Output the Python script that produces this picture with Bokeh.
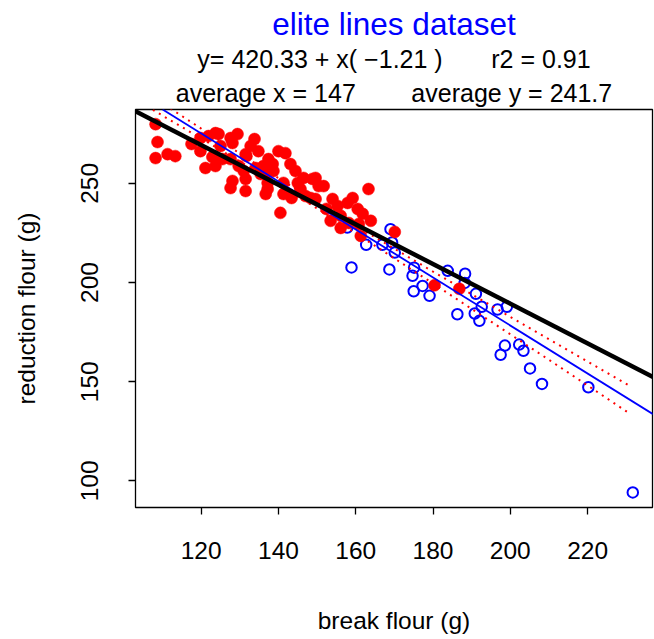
from bokeh.plotting import figure
from bokeh.models import FixedTicker, Range1d, Slope, Title
from bokeh.embed import file_html
from bokeh.resources import INLINE

# ---- data ----
red_x = [108.2, 108.7, 108.2, 111.3, 113.3, 117.5, 119.8, 121.9, 123.7, 124.5,
         119.8, 122.9, 121.1, 123.7, 127.6, 125.5, 127.6, 127.6, 129.4, 128.1,
         133.8, 131.5, 134.8, 140.0, 141.8, 131.0, 128.1, 131.5, 136.7, 137.2,
         141.3, 144.4, 146.5, 148.8, 145.7, 150.4, 141.3, 147.0, 138.5, 143.1,
         134.1, 140.5, 136.7, 143.4, 151.7, 149.6, 149.6, 154.0, 155.3, 159.2,
         163.3, 157.9, 160.5, 161.8, 163.9, 156.1, 153.5, 156.1, 160.8, 161.3,
         158.2, 170.1, 180.4, 186.8, 131.5, 135.4, 136.1, 138.7, 145.0, 131.7,
         125.0, 132.8, 137.4, 129.7, 148.3, 152.4, 137.2]
red_y = [279.8, 270.8, 262.7, 264.7, 263.7, 269.8, 272.8, 273.8, 275.3, 274.8,
         266.2, 263.2, 257.7, 258.7, 272.8, 262.2, 262.2, 247.6, 274.8, 270.3,
         272.3, 264.7, 266.2, 266.2, 265.2, 256.2, 251.2, 246.1, 254.7, 247.1,
         250.2, 256.2, 252.7, 252.2, 247.1, 248.6, 244.6, 243.6, 259.7, 259.7,
         257.7, 235.1, 244.6, 242.6, 248.6, 252.7, 242.1, 242.1, 238.6, 242.6,
         247.1, 240.1, 237.1, 234.6, 231.1, 233.6, 231.1, 227.5, 229.5, 223.5,
         230.0, 225.5, 198.6, 196.8, 252.2, 254.7, 258.7, 256.2, 250.2, 263.7,
         268.8, 268.8, 262.2, 258.7, 242.6, 237.1, 250.2]

blue_x = [157.8, 162.7, 166.9, 169.0, 169.4, 170.1, 158.9, 168.7, 175.1, 174.7,
          177.3, 175.0, 179.1, 183.8, 188.3, 188.2, 191.1, 192.6, 190.8, 192.0,
          186.3, 196.7, 199.1, 198.6, 197.5, 202.3, 203.4, 205.1, 208.2, 220.2,
          231.7]
blue_y = [227.7, 219.0, 219.0, 226.9, 220.2, 215.1, 207.6, 206.6, 207.5, 203.4,
          198.3, 195.6, 193.3, 205.9, 204.4, 199.8, 194.3, 187.8, 184.4, 180.7,
          184.0, 186.4, 187.8, 168.2, 163.6, 168.7, 165.6, 156.7, 148.9, 147.2,
          94.2]

fit_intercept = 420.33
fit_slope = -1.21
thick_intercept = 389.3
thick_slope = -1.0

band_x = [107.5, 120, 135, 147, 160, 180, 200, 215, 231]
band_hi = [293.4, 277.6, 258.8, 244.0, 228.6, 205.5, 182.7, 165.8, 147.8]
band_lo = [287.0, 272.6, 255.2, 241.0, 224.8, 199.5, 173.9, 154.6, 133.8]

x_ticks = [120, 140, 160, 180, 200, 220]
y_ticks = [100, 150, 200, 250]

NB = "\u00a0"
title_text = "elite lines dataset"
sub1_text = "y= 420.33 + x( \u22121.21 )" + NB * 7 + "r2 = 0.91"
sub2_text = "average x = 147" + NB * 8 + "average y = 241.7"

FONT = "Liberation Sans"

p = figure(output_backend="svg", toolbar_location=None,
           frame_width=517, frame_height=398,
           min_border_left=135, min_border_right=2,
           min_border_top=109, min_border_bottom=131,
           x_range=Range1d(103.0, 236.8), y_range=Range1d(86.6, 287.2),
           background_fill_color="white", border_fill_color="white")

p.xgrid.visible = False
p.ygrid.visible = False
p.outline_line_color = "black"
p.outline_line_width = 1.3

for ax in (p.xaxis[0], p.yaxis[0]):
    ax.axis_line_color = None
    ax.major_tick_in = 0
    ax.major_tick_out = 7
    ax.major_tick_line_width = 1.3
    ax.minor_tick_line_color = None
    ax.major_label_text_font = FONT
    ax.major_label_text_font_size = "24.5px"
    ax.major_label_text_color = "black"
    ax.axis_label_text_font = FONT
    ax.axis_label_text_font_size = "24.5px"
    ax.axis_label_text_font_style = "normal"
    ax.axis_label_text_color = "black"

p.xaxis.ticker = FixedTicker(ticks=x_ticks)
p.yaxis.ticker = FixedTicker(ticks=y_ticks)
p.xaxis.axis_label = "break flour (g)"
p.yaxis.axis_label = "reduction flour (g)"
p.yaxis.major_label_orientation = "vertical"
p.xaxis.major_label_standoff = 27
p.xaxis.axis_label_standoff = 45
p.yaxis.major_label_standoff = 30
p.yaxis.axis_label_standoff = 39

# points
p.scatter(blue_x, blue_y, size=10.5, marker="circle", fill_color=None,
          line_color="#0000FF", line_width=2)
p.scatter(red_x, red_y, size=12, marker="circle", fill_color="#FF0000",
          line_color="#FF0000", line_width=0.5)

# lines
p.add_layout(Slope(gradient=fit_slope, y_intercept=fit_intercept,
                   line_color="#0000FF", line_width=1.8))
p.line(band_x, band_hi, line_color="#FF0000", line_width=2, line_dash="2 5")
p.line(band_x, band_lo, line_color="#FF0000", line_width=2, line_dash="2 5")
p.add_layout(Slope(gradient=thick_slope, y_intercept=thick_intercept,
                   line_color="black", line_width=4.5))

# titles (first added sits closest to the plot)
p.add_layout(Title(text=sub2_text, align="center", text_font=FONT,
                   text_font_size="25px", text_font_style="normal",
                   text_color="black", standoff=6), "above")
p.add_layout(Title(text=sub1_text, align="center", text_font=FONT,
                   text_font_size="25px", text_font_style="normal",
                   text_color="black", standoff=2), "above")
p.add_layout(Title(text=title_text, align="center", text_font=FONT,
                   text_font_size="31.5px", text_font_style="normal",
                   text_color="#0000FF", standoff=0), "above")

open("out.html", "w").write(file_html(p, INLINE))
